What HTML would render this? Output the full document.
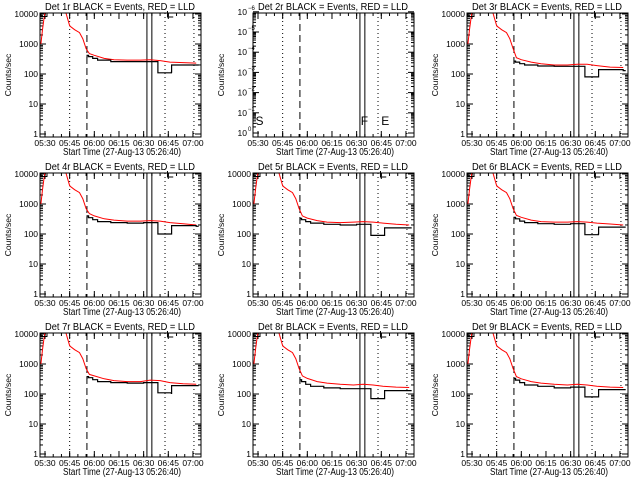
<!DOCTYPE html>
<html><head><meta charset="utf-8"><style>
html,body{margin:0;padding:0;background:#fff;}
svg{display:block;font-family:"Liberation Sans",sans-serif;}
</style></head><body>
<svg id="chart" width="640" height="480" viewBox="0 0 640 480" xmlns="http://www.w3.org/2000/svg">
<rect x="0" y="0" width="640" height="480" fill="#fff"/>
</svg>
<script>
// shared time samples (minutes since 05:30)
const redTimes = [-2.5,-1.5,-0.5,0.5,12,15,18,21,23,25,27,30,36,42,50,58,64,70,76,84,92];
const blackTimes = [25.6,26.5,29,32,40,50,60,66,68.7,70,76.9,77,84,92];
const xTickLabels = ["05:30","05:45","06:00","06:15","06:30","06:45","07:00"];
const xTickMinutes = [0,15,30,45,60,75,90];
const yTickLabels = ["1","10","100","1000","10000"];
const detNames = ["1r","2r","3r","4r","5r","6r","7r","8r","9r"];
const redHead = [1000,3000,8000,15000,15000,4000,3000,2400,1500,700];
const red1 = [480,420,330,300,290,290,300,280,250,240,230];
const red3 = [350,300,250,220,200,200,210,210,190,170,165];
const red4 = [480,400,320,290,270,270,280,270,240,220,200];
const red5 = [400,340,280,250,240,250,260,250,230,210,200];
const red6 = [420,360,290,260,250,250,260,250,230,215,200];
const red7 = [450,400,320,280,260,260,290,280,240,220,210];
const red8 = [400,330,260,230,210,200,210,200,180,170,165];
const red9 = [380,320,260,230,210,200,210,200,180,170,165];
const black1 = [420,380,330,290,260,260,260,260,110,110,115,200,200,200];
const black3 = [270,250,220,200,185,180,180,180,80,80,80,140,140,130];
const black4 = [400,350,300,260,240,230,240,240,100,100,100,190,190,180];
const black5 = [330,300,260,230,210,200,210,210,90,90,90,160,160,160];
const black6 = [360,320,270,240,220,210,220,220,95,95,100,170,170,170];
const black7 = [380,350,300,260,240,230,240,240,110,110,105,190,190,190];
const black8 = [300,260,210,180,160,150,150,150,70,70,70,130,130,130];
const black9 = [330,290,240,200,180,160,170,170,80,80,80,140,140,140];
const redSeries = [red1,null,red3,red4,red5,red6,red7,red8,red9];
const blackSeries = [black1,null,black3,black4,black5,black6,black7,black8,black9];
const dottedLines = [15,73,90.6];
const dashedLine = 25.5;
const solidLines = [62,65];

const NS="http://www.w3.org/2000/svg";
const svg=document.getElementById('chart');
function mk(tag,attrs,parent){const e=document.createElementNS(NS,tag);for(const k in attrs)e.setAttribute(k,attrs[k]);(parent||svg).appendChild(e);return e;}

for(let p=0;p<9;p++){
  const col=p%3,row=Math.floor(p/3);
  const L=[40,253,467][col], R=L+161, T=13+row*160, B=137+row*160;
  const g=mk('g',{});
  
  
  const xs=m=>L+5+1.644*m;
  const ys=v=>B-3-30*Math.log10(v);
  const cid='clip'+p;
  const cp=mk('clipPath',{id:cid},g); mk('rect',{x:L,y:T,width:R-L,height:B-T},cp);
  const t=mk('text',{x:L+5,y:T-3,'font-size':'10.5',textLength:'150',lengthAdjust:'spacingAndGlyphs'},g);
  t.textContent='Det '+detNames[p]+' BLACK = Events, RED = LLD';
  
  
  const xt=mk('text',{x:L+23,y:B+18,'font-size':'10',textLength:'118',lengthAdjust:'spacingAndGlyphs'},g);
  xt.textContent='Start Time (27-Aug-13 05:26:40)';
  
  
  const yt=mk('text',{x:0,y:0,'text-anchor':'middle','font-size':'8.5',transform:`translate(${L-29},${(T+B)/2}) rotate(-90)`},g);
  yt.textContent='Counts/sec';
  
  
  xTickMinutes.forEach((m,i)=>{
    const x=xs(m);
    mk('line',{x1:x,y1:B,x2:x,y2:B-6,stroke:'#000'},g);
    mk('line',{x1:x,y1:T,x2:x,y2:T+6,stroke:'#000'},g);
    const lb=mk('text',{x:x,y:B+9,'text-anchor':'middle','font-size':'8.5'},g);
    lb.textContent=xTickLabels[i];
    
    
  });
  for(let m=0;m<=95;m+=5){const x=xs(m);if(x>L&&x<R){mk('line',{x1:x,y1:B,x2:x,y2:B-3,stroke:'#000'},g);mk('line',{x1:x,y1:T,x2:x,y2:T+3,stroke:'#000'},g);}}
  if(p===1){
    for(let k=0;k<=6;k++){
      const y=B-4-k*20.2;
      mk('line',{x1:L,y1:y,x2:L+6,y2:y,stroke:'#000'},g);mk('line',{x1:R,y1:y,x2:R-6,y2:y,stroke:'#000'},g);
      for(let s=2;s<10;s++){const yy=y-20.2*Math.log10(s);if(yy>T){mk('line',{x1:L,y1:yy,x2:L+3,y2:yy,stroke:'#000'},g);mk('line',{x1:R,y1:yy,x2:R-3,y2:yy,stroke:'#000'},g);}}
      const lb=mk('text',{x:L-6,y:y+3,'text-anchor':'end','font-size':'8.5'},g);
      lb.textContent='10';
      
      
      const sp=mk('text',{x:L-5,y:y-2,'text-anchor':'start','font-size':'6'},g);
      sp.textContent=k===0?'0':'−'+k;
    }
  } else {
    yTickLabels.forEach((lab,i)=>{
      const v=Math.pow(10,i), y=ys(v);
      mk('line',{x1:L,y1:y,x2:L+6,y2:y,stroke:'#000'},g);mk('line',{x1:R,y1:y,x2:R-6,y2:y,stroke:'#000'},g);
      if(i<4)for(let s=2;s<10;s++){const yy=ys(v*s);mk('line',{x1:L,y1:yy,x2:L+3,y2:yy,stroke:'#000'},g);mk('line',{x1:R,y1:yy,x2:R-3,y2:yy,stroke:'#000'},g);}
      const lb=mk('text',{x:L-2,y:y+3,'text-anchor':'end','font-size':'8.5'},g);
      lb.textContent=lab;
      
      
    });
  }
  dottedLines.forEach(m=>{const x=xs(m);mk('line',{x1:x,y1:T,x2:x,y2:B,stroke:'#000','stroke-dasharray':'1,3'},g);});
  {const x=xs(dashedLine);mk('line',{x1:x,y1:T,x2:x,y2:B,stroke:'#000','stroke-dasharray':'7,4'},g);}
  solidLines.forEach(m=>{const x=xs(m);mk('line',{x1:x,y1:T,x2:x,y2:B,stroke:'#000'},g);});
  const cg=mk('g',{'clip-path':`url(#${cid})`},g);
  if(p===1){
    [['S',-1.5],['F',62.5],['E',75]].forEach(([c,m])=>{const tx=mk('text',{x:xs(m),y:B-12,'font-size':'12'},g);tx.textContent=c;});
  } else {
    const rv=redHead.concat(redSeries[p]);
    let d='';
    redTimes.forEach((m,i)=>{const x=xs(m),y=ys(rv[i]);d+=(i?'L':'M')+x.toFixed(1)+','+y.toFixed(1);});
    const rp=mk('path',{d:d,fill:'none',stroke:'#f00','stroke-width':'1'},cg);
    
    
    const bv=blackSeries[p];
    let db='';
    blackTimes.forEach((m,i)=>{const x=xs(m),y=ys(bv[i]);if(i===0)db='M'+x.toFixed(1)+','+ys(bv[0]*0.85).toFixed(1)+'L'+x.toFixed(1)+','+y.toFixed(1);else db+='H'+x.toFixed(1)+'V'+y.toFixed(1);});
    db+='H'+xs(93.5).toFixed(1);
    const bp=mk('path',{d:db,fill:'none',stroke:'#000','stroke-width':'1.2'},cg);
    
    
    mk('rect',{x:L+1,y:T,width:6,height:3.5,fill:'none',stroke:'#000'},g);
    mk('path',{d:`M${xs(74.5)},${T-2}V${T+4}H${xs(78)}`,fill:'none',stroke:'#000'},g);
  }
  mk('rect',{x:L,y:T,width:R-L,height:B-T,fill:'none',stroke:'#000'},g);
}
</script>
</body></html>
